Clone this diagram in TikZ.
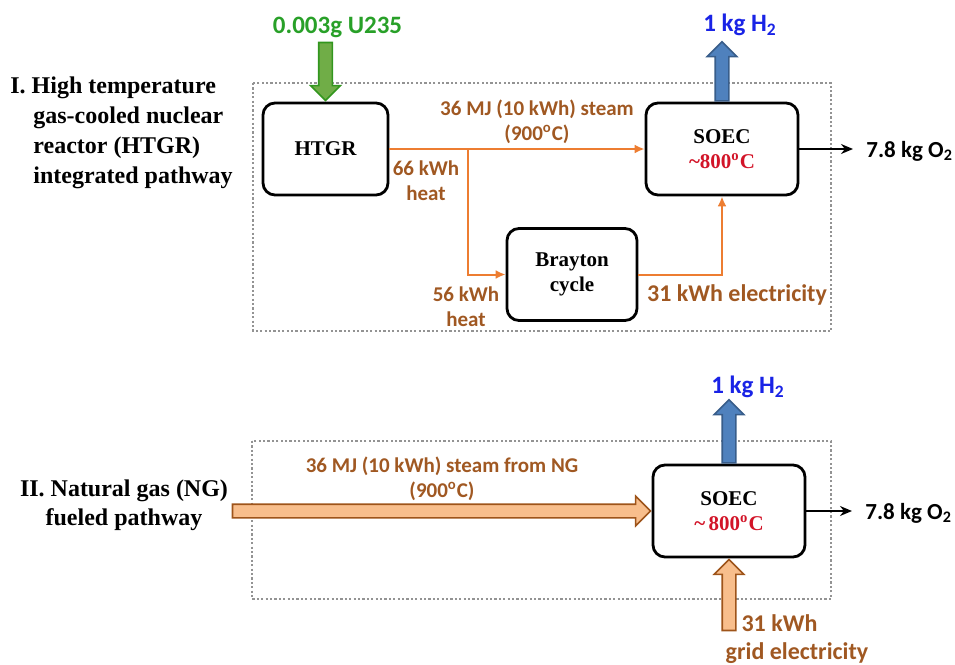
\documentclass[tikz,border=0pt]{standalone}
\usepackage{fontspec}
\setmainfont{Liberation Serif}
\newfontfamily\calfont{Carlito}
\usetikzlibrary{arrows.meta,shapes.arrows}

\definecolor{steamline}{RGB}{237,125,49}
\definecolor{energytext}{RGB}{160,88,34}
\definecolor{fuelfill}{RGB}{112,173,71}
\definecolor{fueledge}{RGB}{50,150,30}
\definecolor{fueltext}{RGB}{40,160,40}
\definecolor{hydfill}{RGB}{79,129,189}
\definecolor{hydedge}{RGB}{56,93,138}
\definecolor{hydtext}{RGB}{25,35,230}
\definecolor{tempred}{RGB}{210,20,40}
\definecolor{ngfill}{RGB}{248,190,140}
\definecolor{ngedge}{RGB}{158,84,26}

\begin{document}
\begin{tikzpicture}[x=0.5pt, y=-0.5pt,
    unit/.style={rectangle, rounded corners=6pt, draw=black, line width=1.4pt, minimum width=76pt, minimum height=46pt, align=center, font=\fontsize{10.5}{12.5}\selectfont\bfseries},
    bound/.style={draw=gray!85, line width=1.4pt, dash pattern=on 1.1pt off 1.1pt},
    flow/.style={draw=steamline, line width=1pt, -{Latex[length=5pt, width=4.5pt]}},
    outflow/.style={draw=black, line width=0.8pt, shorten >=6.5pt, -{Stealth[length=6pt, width=5pt]}},
    qty/.style={font=\calfont\fontsize{10.5}{12.5}\selectfont\bfseries, text=energytext, align=center, inner sep=0pt},
    bigqty/.style={font=\calfont\fontsize{12}{14}\selectfont\bfseries, text=energytext, align=center, inner sep=0pt},
    big/.style={font=\calfont\fontsize{12.5}{14}\selectfont\bfseries, inner sep=0pt},
    fat/.style={single arrow, inner xsep=0pt, inner ysep=3pt, single arrow head extend=4pt, line width=0.8pt},
    route/.style={font=\fontsize{12}{15}\selectfont\bfseries, align=left, inner sep=0pt}
]
    \useasboundingbox (0,0) rectangle (955,665);
    \draw[bound] (253,83) rectangle (831,331);
    \draw[bound] (252,441) rectangle (831,599);

    \node[route, anchor=north west] (pathI) at (10,76.5) {I. High temperature\\\hspace*{11.5pt}gas-cooled nuclear\\\hspace*{11.5pt}reactor (HTGR)\\\hspace*{11.5pt}integrated pathway};
    \node[route, align=center, font=\fontsize{12}{14.5}\selectfont\bfseries, anchor=north] (pathII) at (124,479.5) {II. Natural gas (NG)\\fueled pathway};

    \node[unit, minimum width=62.5pt] (htgr) at (325.5,149) {HTGR};
    \node[unit] (soec) at (722,149) {SOEC\\\textcolor{tempred}{\textasciitilde800\textsuperscript{o}C}};
    \node[unit, minimum width=65pt] (brayton) at (572,274.5) {Brayton\\cycle};
    \node[unit] (soecng) at (729,511) {SOEC\\\textcolor{tempred}{\textasciitilde\,800\textsuperscript{o}C}};

    \node[fat, fill=fuelfill, draw=fueledge, rotate=-90, anchor=tip, minimum height=29pt] (fuel) at (htgr.north) {};
    \node[fat, fill=hydfill, draw=hydedge, rotate=90, anchor=tail, minimum height=29.5pt] (hyd) at (soec.north) {};
    \node[fat, fill=hydfill, draw=hydedge, rotate=90, anchor=tail, minimum height=31.5pt] (hydng) at (soecng.north) {};
    \node[fat, fill=ngfill, draw=ngedge, rotate=90, anchor=tip, minimum height=35.5pt] (grid) at (soecng.south) {};
    \node[fat, fill=ngfill, draw=ngedge, anchor=tip, minimum height=209pt] (ngsteam) at (soecng.west) {};

    \node[big, text=fueltext] (u235) at (337.5,27) {0.003g U235};
    \node[big, text=hydtext] (h2) at (740,25) {1 kg H\textsubscript{2}};
    \node[big, text=hydtext] (h2ng) at (748,387) {1 kg H\textsubscript{2}};
    \node[big, font=\calfont\fontsize{11.5}{14}\selectfont\bfseries, anchor=west] (o2) at (866,151) {7.8 kg O\textsubscript{2}};
    \node[big, font=\calfont\fontsize{11.5}{14}\selectfont\bfseries, anchor=west] (o2ng) at (865,513) {7.8 kg O\textsubscript{2}};

    \coordinate (split) at (467.5,149);
    \draw[flow] (htgr.east) -- (soec.west);
    \draw[flow] (split) |- (brayton.west);
    \draw[flow] (brayton.east) -| (soec.south);
    \draw[outflow] (soec.east) -- (o2.west |- soec.east);
    \draw[outflow] (soecng.east) -- (o2ng.west |- soecng.east);

    \node[qty] (steamlbl) at (537,122) {36 MJ (10 kWh) steam\\(900\textsuperscript{o}C)};
    \node[qty] (heat66) at (426,181) {66 kWh\\heat};
    \node[qty] (heat56) at (466,307) {56 kWh\\heat};
    \node[bigqty] (elec) at (737,295) {31 kWh electricity};
    \node[qty] (steamng) at (442,479) {36 MJ (10 kWh) steam from NG\\(900\textsuperscript{o}C)};
    \node[bigqty] (gridkwh) at (779.5,623) {31 kWh};
    \node[bigqty] (gridlbl) at (797,653) {grid electricity};
\end{tikzpicture}
\end{document}
